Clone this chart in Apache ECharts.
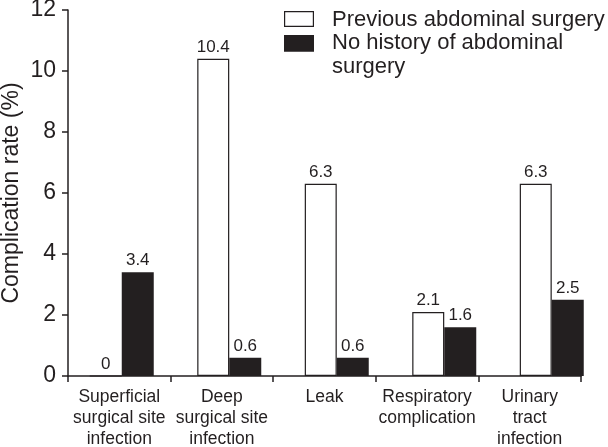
<!DOCTYPE html>
<html><head><meta charset="utf-8">
<script src="https://cdn.jsdelivr.net/npm/echarts@6/dist/echarts.min.js"></script>
<style>html,body{margin:0;padding:0;background:#fff}#c{width:608px;height:447px}</style>
</head><body><div id="c"></div>
<script>
var categories = ['Superficial\nsurgical site\ninfection', 'Deep\nsurgical site\ninfection', 'Leak', 'Respiratory\ncomplication', 'Urinary\ntract\ninfection'];
var seriesNames = ['Previous abdominal surgery', 'No history of abdominal\nsurgery'];
var previousSurgery = [0, 10.4, 6.3, 2.1, 6.3];
var noHistory = [3.4, 0.6, 0.6, 1.6, 2.5];
var yTicks = [0, 2, 4, 6, 8, 10, 12];

var ink = '#231f20';
var font = 'Liberation Sans, Arial, Helvetica, sans-serif';
// legend icons: 30px wide, 40px tall box; extents at y=0 and y=40 fix the icon frame
var iconHollow = 'path://M0,0L0.01,0L0.01,0.01Z M0,40L0.01,40L0.01,39.99Z M0,11H30V27H0Z M1.2,12.2V25.8H28.8V12.2Z';
var iconFilled = 'path://M0,0L0.01,0L0.01,0.01Z M0,40L0.01,40L0.01,39.99Z M0,-0.5H30V16.5H0Z';
var chart = echarts.init(document.getElementById('c'));
chart.setOption({
  animation: false,
  textStyle: {fontFamily: font, color: ink},
  legend: {
    orient: 'vertical', left: 284, top: 0, padding: 0,
    itemWidth: 30, itemHeight: 40, itemGap: -9, symbolKeepAspect: false,
    textStyle: {fontSize: 22, color: ink, fontFamily: font, lineHeight: 24, padding: [0, 0, 0, 13]},
    data: [
      {name: seriesNames[0], icon: iconHollow, itemStyle: {color: ink, borderWidth: 0}},
      {name: seriesNames[1], icon: iconFilled, itemStyle: {color: ink, borderWidth: 0}}
    ]
  },
  grid: [
    {left: 68, right: 27, top: 10, bottom: 71, outerBoundsMode: 'none', containLabel: false},
    {left: 68, right: 2.5, top: 10, bottom: 71, outerBoundsMode: 'none', containLabel: false}
  ],
  xAxis: [
    {type: 'category', gridIndex: 0, data: categories,
     axisLine: {lineStyle: {color: ink, width: 1.5}},
     axisTick: {show: true, length: 6, lineStyle: {color: ink, width: 1.5}},
     axisLabel: {color: ink, fontSize: 17.5, lineHeight: 21, margin: 11, interval: 0, fontFamily: font}},
    {type: 'category', gridIndex: 1, data: categories, show: false}
  ],
  yAxis: [
    {type: 'value', gridIndex: 0, min: yTicks[0], max: yTicks[yTicks.length-1], interval: 2,
     name: 'Complication rate (%)', nameLocation: 'middle', nameGap: 45, nameMoveOverlap: false,
     nameTextStyle: {fontSize: 23, color: ink, fontFamily: font},
     axisLine: {show: true, lineStyle: {color: ink, width: 1.5}},
     axisTick: {show: true, length: 6, lineStyle: {color: ink, width: 1.5}},
     axisLabel: {color: ink, fontSize: 23, margin: 12, fontFamily: font},
     splitLine: {show: false}},
    {type: 'value', gridIndex: 1, min: 0, max: 12, interval: 2, show: false, splitLine: {show: false}}
  ],
  series: [
    {name: seriesNames[0], type: 'bar', xAxisIndex: 1, yAxisIndex: 1, data: previousSurgery,
     barWidth: 32, barGap: '0%',
     itemStyle: {color: '#fff', borderColor: ink, borderWidth: 1.2},
     label: {show: true, position: 'top', distance: 3, fontSize: 17, color: ink, fontFamily: font}},
    {name: seriesNames[1], type: 'bar', xAxisIndex: 1, yAxisIndex: 1, data: noHistory,
     barWidth: 32, barGap: '0%',
     itemStyle: {color: ink},
     label: {show: true, position: 'top', distance: 3, fontSize: 17, color: ink, fontFamily: font}}
  ]
});
</script></body></html>
